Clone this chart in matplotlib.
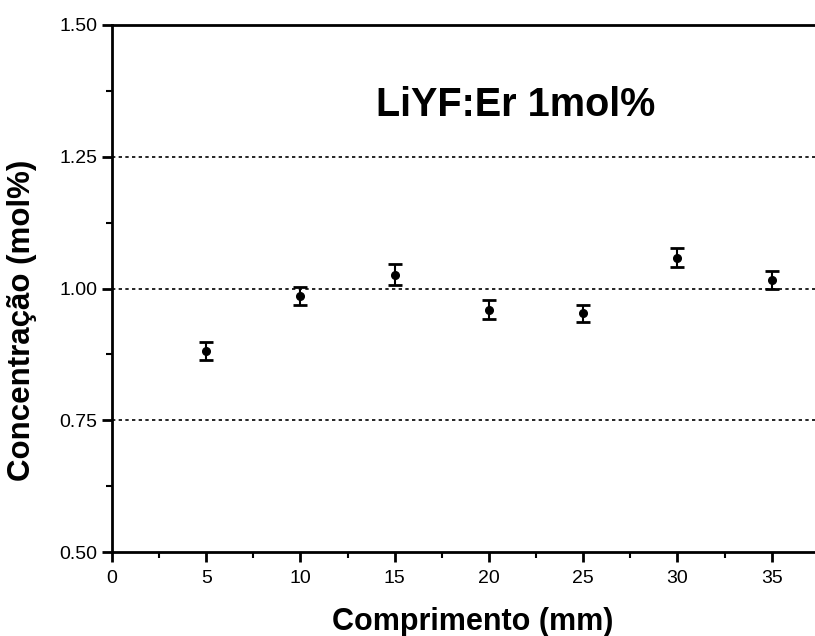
import matplotlib
matplotlib.use("Agg")
from matplotlib import pyplot as plt
from matplotlib.ticker import MultipleLocator

plt.rcParams['font.family'] = ['Liberation Sans', 'DejaVu Sans']

# data
comprimento = [5, 10, 15, 20, 25, 30, 35]
concentracao = [0.882, 0.986, 1.026, 0.960, 0.953, 1.058, 1.017]
erro = [0.017, 0.017, 0.020, 0.018, 0.016, 0.018, 0.017]
linhas_ref = [0.75, 1.00, 1.25]

fig = plt.figure(figsize=(8.15, 6.36), dpi=100)
ax = fig.add_axes([0.1374, 0.132, 0.8626, 0.8287])

for y in linhas_ref:
    ax.axhline(y, color='black', linestyle=(0, (2, 2)), linewidth=1.2, zorder=1)

ax.errorbar(comprimento, concentracao, yerr=erro, fmt='o', color='black',
            markersize=5.5, capsize=5, capthick=2, elinewidth=1.5, zorder=3)

ax.set_xlim(0, 37.3)
ax.set_ylim(0.5, 1.5)
ax.xaxis.set_major_locator(MultipleLocator(5))
ax.xaxis.set_minor_locator(MultipleLocator(2.5))
ax.yaxis.set_major_locator(MultipleLocator(0.25))
ax.yaxis.set_minor_locator(MultipleLocator(0.125))
ax.yaxis.set_major_formatter(plt.FormatStrFormatter('%.2f'))

ax.spines['right'].set_visible(False)
for s in ['left', 'bottom', 'top']:
    ax.spines[s].set_linewidth(2)

ax.tick_params(axis='both', which='major', direction='out', length=7, width=2, labelsize=14)
ax.tick_params(axis='x', which='major', pad=6)
ax.tick_params(axis='both', which='minor', direction='out', length=4, width=1.5)
ax.tick_params(top=False, right=False)

ax.set_xlabel('Comprimento (mm)', fontsize=22, fontweight='bold')
ax.set_ylabel('Concentração (mol%)', fontsize=22.5, fontweight='bold')
ax.xaxis.set_label_coords(0.5135, -0.105)
ax.yaxis.set_label_coords(-0.107, 0.44)

ax.text(21.4, 1.348, 'LiYF:Er 1mol%', fontsize=28.5, fontweight='bold',
        ha='center', va='center')

fig.savefig('out.png', dpi=100)
